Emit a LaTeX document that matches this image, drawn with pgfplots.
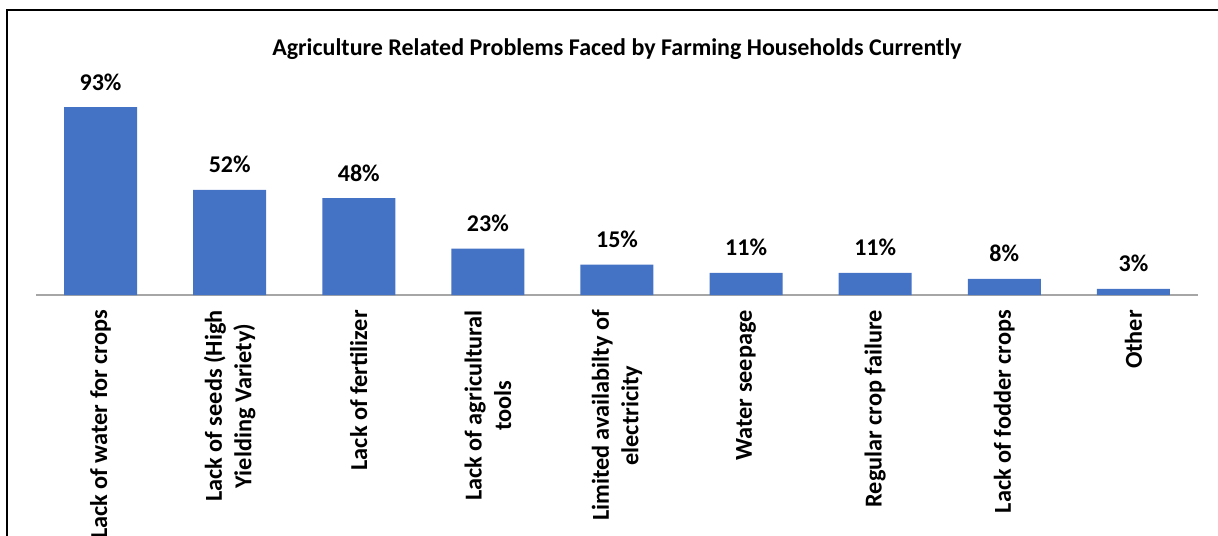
\documentclass[border=0pt]{standalone}
\usepackage{pgfplots}
\pgfplotsset{compat=1.18}
\usepackage{fontspec}
\setmainfont{Carlito}
\definecolor{barblue}{HTML}{4472C4}
\begin{document}
\begin{tikzpicture}
\path[use as bounding box] (0,0) rectangle (1218bp,-536bp);
\clip (0,0) rectangle (1218bp,-536bp);
\draw[line width=2bp, black] (7bp,-600bp) -- (7bp,-10bp) -- (1300bp,-10bp);
\node[font=\fontsize{24bp}{28bp}\selectfont\bfseries, anchor=base, inner sep=0pt] at (617bp,-55bp) {Agriculture Related Problems Faced by Farming Households Currently};
\begin{axis}[
 at={(36bp,-295bp)}, anchor=south west, scale only axis,
 width=1162bp, height=202bp,
 xmin=-0.5, xmax=8.5, ymin=0, ymax=100,
 axis x line*=bottom, axis y line=none,
 x axis line style={draw=black!35, line width=1.3bp},
 ytick=\empty,
 xtick={0,...,8}, major tick length=0pt,
 xticklabels={Lack of water for crops, {Lack of seeds (High\\Yielding Variety)}, Lack of fertilizer, {Lack of agricultural\\tools}, {Limited availabilty of\\electricity}, Water seepage, Regular crop failure, Lack of fodder crops, Other},
 xticklabel style={rotate=90, anchor=east, align=center, inner sep=0pt, font=\fontsize{24.3bp}{29.5bp}\selectfont\bfseries},
 xticklabel shift=15bp,
 ybar, bar width=73bp,
 /pgf/number format/assume math mode=true,
 nodes near coords={\pgfmathprintnumber{\pgfplotspointmeta}\%},
 every node near coord/.append style={anchor=base, yshift=17bp, inner sep=0pt, font=\fontsize{24bp}{29bp}\selectfont\bfseries, text=black},
 clip=false,
]
\addplot[fill=barblue, draw=none] coordinates {(0,93) (1,52) (2,48) (3,23) (4,15) (5,11) (6,11) (7,8) (8,3)};
\end{axis}
\end{tikzpicture}
\end{document}
